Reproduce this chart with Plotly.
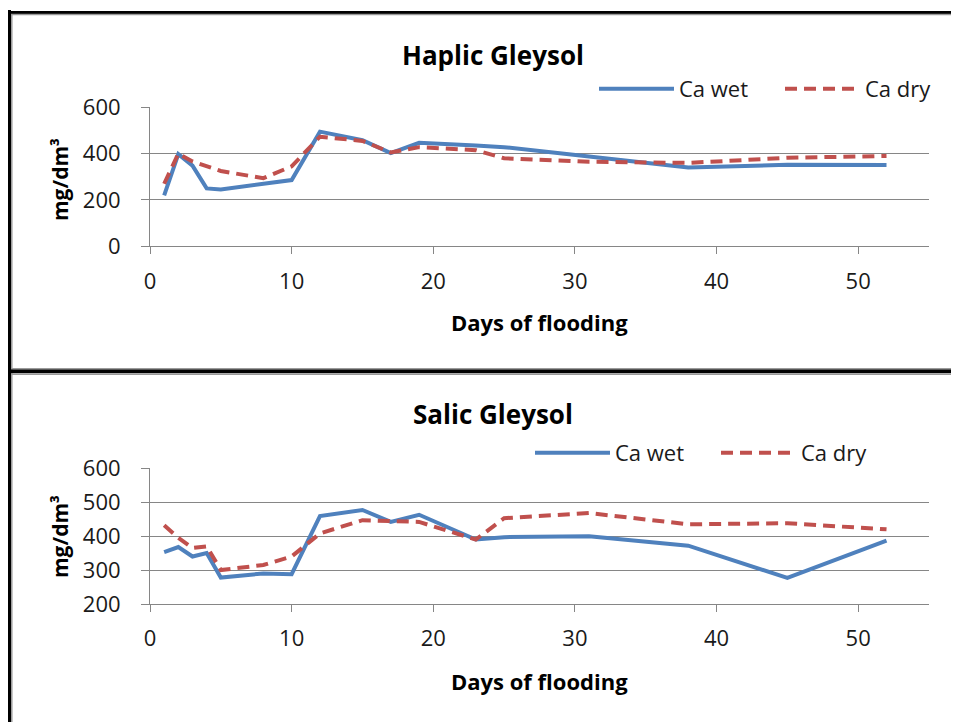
import plotly.graph_objects as go

days = [1, 2, 3, 4, 5, 8, 10, 12, 15, 17, 19, 23, 25, 31, 38, 45, 52]
haplic_wet = [220, 398, 348, 250, 245, 268, 286, 495, 458, 402, 447, 435, 428, 388, 340, 352, 351]
haplic_dry = [270, 400, 366, 347, 325, 294, 345, 473, 455, 405, 428, 415, 380, 365, 360, 382, 390]
salic_wet = [353, 368, 340, 350, 278, 290, 288, 459, 477, 442, 463, 390, 397, 400, 372, 277, 387]
salic_dry = [432, 395, 365, 370, 300, 315, 340, 408, 447, 445, 442, 390, 453, 468, 435, 438, 420]

top_title = "Haplic Gleysol"
bottom_title = "Salic Gleysol"
x_title = "Days of flooding"
y_title = "mg/dm³"
name_wet = "Ca wet"
name_dry = "Ca dry"
x_ticks = [0, 10, 20, 30, 40, 50]
top_y_ticks = [0, 200, 400, 600]
bottom_y_ticks = [200, 300, 400, 500, 600]

# page body has an 8px margin: figure is 951x714 placed at (8, 8)
OX, OY = 8, 8
W, H = 951, 714
BLUE = "#4F81BD"
RED = "#C0504D"
GRID = "#868686"
TXT = "#1a1a1a"
FONT = "Open Sans"

def px(x):
    return (x - OX) / W

def py(y):
    return 1 - (y - OY) / H

fig = go.Figure()

fig.add_trace(go.Scatter(x=days, y=haplic_wet, name=name_wet, mode="lines",
                         line=dict(color=BLUE, width=4), xaxis="x", yaxis="y", legend="legend"))
fig.add_trace(go.Scatter(x=days, y=haplic_dry, name=name_dry, mode="lines",
                         line=dict(color=RED, width=4, dash="12px,7px"), xaxis="x", yaxis="y", legend="legend"))
fig.add_trace(go.Scatter(x=days, y=salic_wet, name=name_wet, mode="lines",
                         line=dict(color=BLUE, width=4), xaxis="x2", yaxis="y2", legend="legend2"))
fig.add_trace(go.Scatter(x=days, y=salic_dry, name=name_dry, mode="lines",
                         line=dict(color=RED, width=4, dash="12px,7px"), xaxis="x2", yaxis="y2", legend="legend2"))

xdom = [px(150), px(929)]
common_x = dict(range=[0, 55], tickvals=x_ticks, showgrid=False, showline=True, linecolor=GRID,
                linewidth=1, ticks="outside", ticklen=7, tickcolor=GRID, zeroline=False,
                tickfont=dict(family=FONT, size=22, color=TXT), ticklabelstandoff=8, fixedrange=True)
common_y = dict(showgrid=True, gridcolor=GRID, gridwidth=1, showline=True, linecolor=GRID,
                linewidth=1, ticks="outside", ticklen=8, tickcolor=GRID, zeroline=False,
                tickfont=dict(family=FONT, size=22, color=TXT), ticklabelstandoff=16, fixedrange=True)

legend_common = dict(orientation="h", font=dict(family=FONT, size=22, color=TXT),
                     bgcolor="rgba(0,0,0,0)", borderwidth=0, xanchor="left", yanchor="middle",
                     itemwidth=75, entrywidth=96, entrywidthmode="pixels", tracegroupgap=0)

fig.update_layout(
    width=W, height=H,
    margin=dict(l=0, r=0, t=0, b=0, autoexpand=False),
    paper_bgcolor="white", plot_bgcolor="white",
    font=dict(family=FONT, color=TXT),
    xaxis=dict(domain=xdom, anchor="y", **common_x),
    yaxis=dict(domain=[py(246.3), py(107.3)], anchor="x", range=[0, 600], tickvals=top_y_ticks, **common_y),
    xaxis2=dict(domain=xdom, anchor="y2", **common_x),
    yaxis2=dict(domain=[py(604), py(468.3)], anchor="x2", range=[200, 600], tickvals=bottom_y_ticks, **common_y),
    legend=dict(x=px(594), y=py(89), **legend_common),
    legend2=dict(x=px(530), y=py(453), **legend_common),
    showlegend=True,
)

ann = []
for title, ty in [(top_title, 55), (bottom_title, 414)]:
    ann.append(dict(text="<b>%s</b>" % title, x=px(493), y=py(ty), xref="paper", yref="paper",
                    showarrow=False, xanchor="center", yanchor="middle",
                    font=dict(family=FONT, size=26, color="black")))
for ty in [322, 681]:
    ann.append(dict(text="<b>%s</b>" % x_title, x=px(539), y=py(ty), xref="paper", yref="paper",
                    showarrow=False, xanchor="center", yanchor="middle",
                    font=dict(family=FONT, size=22, color="black")))
for ty in [180, 537]:
    ann.append(dict(text="<b>%s</b>" % y_title, x=px(60), y=py(ty), xref="paper", yref="paper",
                    showarrow=False, xanchor="center", yanchor="middle", textangle=-90,
                    font=dict(family=FONT, size=21, color="black")))
fig.update_layout(annotations=ann)

shapes = []
# frame: left border, top border, divider
shapes.append(dict(type="line", xref="paper", yref="paper", x0=px(9.5), x1=px(9.5), y0=py(10), y1=0,
                   line=dict(color="black", width=3)))
shapes.append(dict(type="line", xref="paper", yref="paper", x0=px(11.8), x1=px(11.8), y0=py(14), y1=0,
                   line=dict(color="#9a9a9a", width=1.5)))
shapes.append(dict(type="line", xref="paper", yref="paper", x0=px(8), x1=1, y0=py(12.5), y1=py(12.5),
                   line=dict(color="black", width=3)))
shapes.append(dict(type="line", xref="paper", yref="paper", x0=px(11), x1=1, y0=py(14.6), y1=py(14.6),
                   line=dict(color="#9a9a9a", width=1.5)))
shapes.append(dict(type="line", xref="paper", yref="paper", x0=px(8), x1=1, y0=py(371.3), y1=py(371.3),
                   line=dict(color="black", width=4)))
shapes.append(dict(type="line", xref="paper", yref="paper", x0=px(11), x1=1, y0=py(368.6), y1=py(368.6),
                   line=dict(color="#9a9a9a", width=1.2)))
shapes.append(dict(type="line", xref="paper", yref="paper", x0=px(11), x1=1, y0=py(374.2), y1=py(374.2),
                   line=dict(color="#9a9a9a", width=1.5)))
fig.update_layout(shapes=shapes)

fig.write_html("out.html")
